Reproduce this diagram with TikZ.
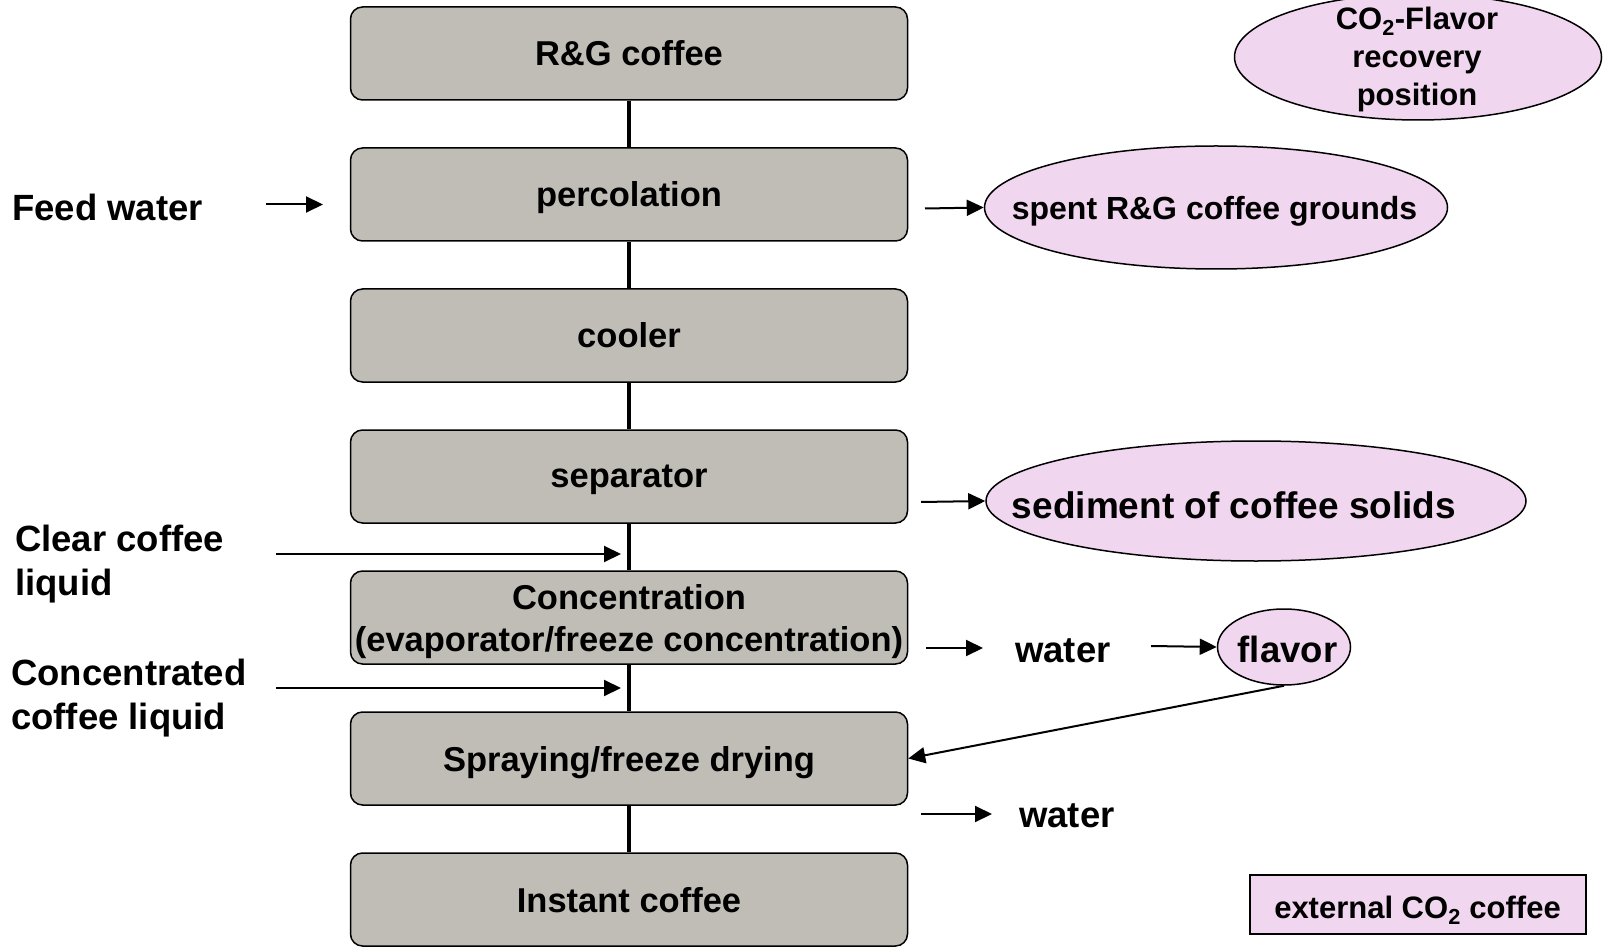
\documentclass[tikz,border=0pt]{standalone}
\usepackage{fontspec}
\setmainfont{Liberation Sans}
\usetikzlibrary{shapes.geometric,arrows.meta}
\definecolor{boxgray}{RGB}{192,188,182}
\definecolor{pinkfill}{RGB}{240,214,238}
\newcommand{\subtwo}{\textsubscript{2}}
\begin{document}
\begin{tikzpicture}[x=1pt,y=-1pt,
  stage/.style={draw=black, line width=1.5pt, fill=boxgray, rounded corners=12pt,
    minimum width=557pt, minimum height=93pt, inner sep=0pt, align=center,
    text depth=-3.5pt, font=\fontsize{34.5}{42}\selectfont\bfseries},
  oval/.style={ellipse, draw=black, line width=1.5pt, fill=pinkfill, inner sep=0pt},
  ovaltext/.style={inner sep=0pt, align=center, text depth=0pt},
  lbl/.style={inner sep=0pt, anchor=west, align=left, font=\fontsize{36.5}{44}\selectfont\bfseries},
  arr/.style={line width=2pt, -{Triangle[length=17pt,width=16pt]}},
  spine/.style={line width=4pt}]
\useasboundingbox (0,0) rectangle (1603,949);

% process boxes
\node[stage] (rg)   at (629,53.5)  {R\&G coffee};
\node[stage] (perc) at (629,194.5) {percolation};
\node[stage] (cool) at (629,335.5) {cooler};
\node[stage] (sep)  at (629,476.5) {separator};
\node[stage] (conc) at (629,617.5) {Concentration\\(evaporator/freeze concentration)};
\node[stage] (spr)  at (629,758.5) {Spraying/freeze drying};
\node[stage] (inst) at (629,899.5) {Instant coffee};

\draw[spine] (rg) -- (perc);
\draw[spine] (perc) -- (cool);
\draw[spine] (cool) -- (sep);
\draw[spine] (sep) -- (conc);
\draw[spine] (conc) -- (spr);
\draw[spine] (spr) -- (inst);

% ovals
\node[oval, minimum width=367pt, minimum height=126pt] (co2) at (1418,57) {};
\node[ovaltext, font=\fontsize{31}{38}\selectfont\bfseries] (co2t) at (1417,56)
      {CO\subtwo-Flavor\\recovery\\position};
\node[oval, minimum width=463pt, minimum height=123pt] (spent) at (1216,207.5) {};
\node[ovaltext, font=\fontsize{32}{38}\selectfont\bfseries] (spentt) at (1214.5,207.5)
      {spent R\&G coffee grounds};
\node[oval, minimum width=540pt, minimum height=120pt] (sed) at (1256,501) {};
\node[ovaltext, font=\fontsize{37}{44}\selectfont\bfseries] (sedt) at (1234,505)
      {sediment of coffee solids};
\node[oval, minimum width=133pt, minimum height=76pt] (flav) at (1284,647) {};
\node[ovaltext, font=\fontsize{36.5}{44}\selectfont\bfseries] (flavt) at (1287.5,649)
      {flavor};
\node[draw=black, line width=1.5pt, fill=pinkfill, minimum width=336pt, minimum height=59pt,
      inner sep=0pt] (ext) at (1418,904.5) {};
\node[ovaltext, font=\fontsize{31}{38}\selectfont\bfseries] (extt) at (1417.5,907)
      {external CO\subtwo{} coffee};

% left labels
\node[lbl] (feed) at (12,207) {Feed water};
\node[lbl, anchor=north west] (clear) at (15,525) {Clear coffee\\liquid};
\node[lbl, anchor=north west] (concl) at (11,659) {Concentrated\\coffee liquid};

% right labels
\node[lbl] (w1) at (1015,651) {water};
\node[lbl] (w2) at (1019,816) {water};

% arrow end points
\coordinate (feedA) at (266,204.5);
\coordinate (feedB) at (323,204.5);
\coordinate (percA) at (925,208.5);
\coordinate (sepA)  at (921,502);
\coordinate (clA)   at (276,554);
\coordinate (clB)   at (621,554);
\coordinate (ccA)   at (276,688);
\coordinate (ccB)   at (621,688);
\coordinate (concA) at (926,648);
\coordinate (concB) at (983,648);
\coordinate (w1A)   at (1151,646);
\coordinate (sprA)  at (921,814);
\coordinate (sprB)  at (992,814);

\draw[arr] (feedA) -- (feedB);
\draw[arr] (percA) -- (spent.west);
\draw[arr] (sepA) -- (sed.west);
\draw[arr] (clA) -- (clB);
\draw[arr] (ccA) -- (ccB);
\draw[arr] (concA) -- (concB);
\draw[arr] (w1A) -- (flav.west);
\draw[arr] (sprA) -- (sprB);
\draw[arr] (flav.south) -- (spr.east);
\end{tikzpicture}
\end{document}
